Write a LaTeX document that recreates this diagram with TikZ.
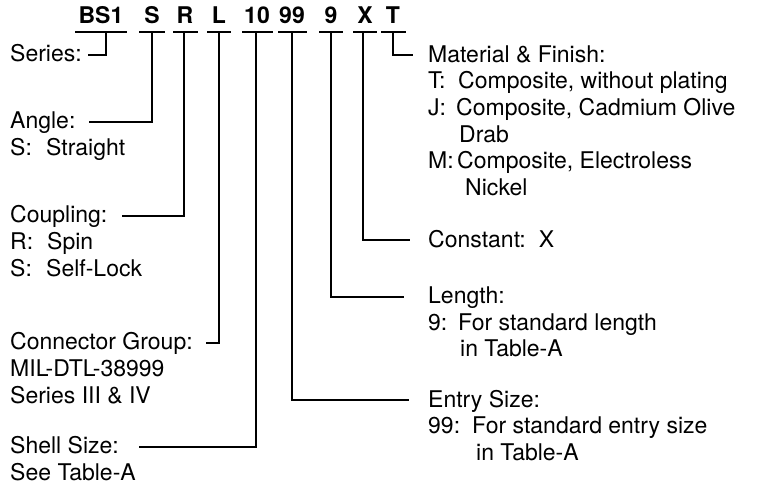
\documentclass[tikz,border=0pt]{standalone}
\usepackage{fontspec}
\setmainfont{TeX Gyre Heros}
\begin{document}
\begin{tikzpicture}[x=1pt,y=-1pt,
  lbl/.style={anchor=base west, inner sep=0pt, font=\fontsize{23}{27}\selectfont},
  code/.style={anchor=base, inner sep=0pt, font=\fontsize{23}{27}\selectfont\bfseries},
  ln/.style={line width=1.6pt, line join=miter}]
\useasboundingbox (0,0) rectangle (757,488);
% code letters
\node[code] (cBS) at (101,23) {BS1};
\node[code] (cS)  at (152,23) {S};
\node[code] (cR)  at (185,23) {R};
\node[code] (cL)  at (219,23) {L};
\node[code] (c10) at (257,23) {10};
\node[code] (c99) at (292,23) {99};
\node[code] (c9)  at (331,23) {9};
\node[code] (cX)  at (365,23) {X};
\node[code] (cT)  at (393,23) {T};
% underlines
\draw[ln] (75,32) -- (127,32);
\draw[ln] (139,32) -- (165,32);
\draw[ln] (173,32) -- (198,32);
\draw[ln] (207,32) -- (231,32);
\draw[ln] (242,32) -- (273,32);
\draw[ln] (278,32) -- (307,32);
\draw[ln] (319,32) -- (343,32);
\draw[ln] (353,32) -- (377,32);
\draw[ln] (381,32) -- (406,32);
% connector start points
\coordinate (pBS) at (106,32);
\coordinate (pS)  at (152,32);
\coordinate (pR)  at (184,32);
\coordinate (pL)  at (219,32);
\coordinate (p10) at (256,32);
\coordinate (p99) at (292,32);
\coordinate (p9)  at (331,32);
\coordinate (pX)  at (363,32);
\coordinate (pT)  at (393,32);
% connector end points
\coordinate (qBS) at (88,55);
\coordinate (qS)  at (89,122);
\coordinate (qR)  at (122,216);
\coordinate (qL)  at (206,343);
\coordinate (q10) at (139,447);
\coordinate (q99) at (409,400);
\coordinate (q9)  at (404,297);
\coordinate (qX)  at (410,240);
\coordinate (qT)  at (413,55);
\draw[ln] (pBS) |- (qBS);
\draw[ln] (pS)  |- (qS);
\draw[ln] (pR)  |- (qR);
\draw[ln] (pL)  |- (qL);
\draw[ln] (p10) |- (q10);
\draw[ln] (p99) |- (q99);
\draw[ln] (p9)  |- (q9);
\draw[ln] (pX)  |- (qX);
\draw[ln] (pT)  |- (qT);
% left labels
\node[lbl] (lSeries) at (10,61) {Series:};
\node[lbl] (lAngle) at (10,128) {Angle:};
\node[lbl] (lAngle1) at (10,155) {\makebox[36pt][l]{S:}Straight};
\node[lbl] (lCoup) at (10,222) {Coupling:};
\node[lbl] (lCoup1) at (10,249) {\makebox[37pt][l]{R:}Spin};
\node[lbl] (lCoup2) at (10,276) {\makebox[36pt][l]{S:}Self-Lock};
\node[lbl] (lConn) at (10,349) {Connector Group:};
\node[lbl] (lConn1) at (10,376) {MIL-DTL-38999};
\node[lbl] (lConn2) at (10,403) {Series III \& IV};
\node[lbl] (lShell) at (10,453) {Shell Size:};
\node[lbl] (lShell1) at (10,480) {See Table-A};
% right labels
\node[lbl] (lMat) at (428,62) {Material \& Finish:};
\node[lbl] (lMat1) at (428,88) {\makebox[30pt][l]{T:}Composite, without plating};
\node[lbl] (lMat2) at (428,115) {\makebox[28pt][l]{J:}Composite, Cadmium Olive};
\node[lbl] (lMat3) at (459,142) {Drab};
\node[lbl] (lMat4) at (428,168) {\makebox[29pt][l]{M:}Composite, Electroless};
\node[lbl] (lMat5) at (465,195) {Nickel};
\node[lbl] (lConst) at (428,247) {Constant:\hspace{13pt}X};
\node[lbl] (lLen) at (428,303) {Length:};
\node[lbl] (lLen1) at (428,330) {\makebox[30pt][l]{9:}For standard length};
\node[lbl] (lLen2) at (460,356) {in Table-A};
\node[lbl] (lEnt) at (428,407) {Entry Size:};
\node[lbl] (lEnt1) at (428,433) {\makebox[44pt][l]{99:}For standard entry size};
\node[lbl] (lEnt2) at (476,460) {in Table-A};
\end{tikzpicture}
\end{document}
